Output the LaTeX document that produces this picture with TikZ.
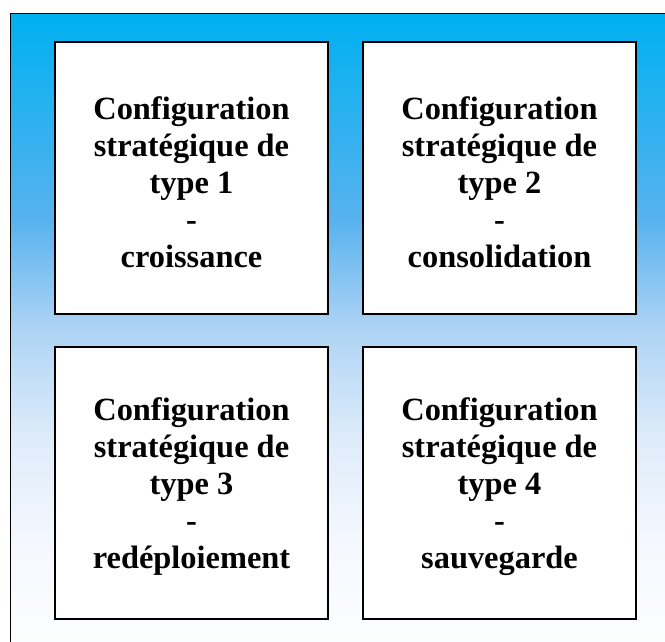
\documentclass[tikz,border=0pt]{standalone}
\usepackage{fontspec}
\setmainfont{Liberation Serif}
\definecolor{gA}{RGB}{252,253,255}
\definecolor{gB}{RGB}{244,248,254}
\definecolor{gC}{RGB}{222,236,250}
\definecolor{gD}{RGB}{175,212,245}
\definecolor{gE}{RGB}{88,178,238}
\definecolor{gF}{RGB}{0,176,240}
\pgfdeclareverticalshading{bgshade}{100bp}{color(0bp)=(gA); color(25bp)=(gA); color(33.1bp)=(gB); color(41.1bp)=(gC); color(49.8bp)=(gD); color(58.6bp)=(gE); color(75bp)=(gF); color(100bp)=(gF)}
\begin{document}
\begin{tikzpicture}[x=1pt,y=1pt,
  cfgbox/.style={draw=black, line width=2pt, fill=white, minimum width=273pt, minimum height=272pt,
    inner sep=0pt, align=center, font=\fontsize{32.4}{37}\selectfont\bfseries}]
\clip (0,0) rectangle (665,642);
\useasboundingbox (0,0) rectangle (665,642);
\shade[shading=bgshade] (10.5,0) rectangle (665,628.5);
\draw[black, line width=1.5pt] (10.5,-5) -- (10.5,628.5) -- (670,628.5);
\node[cfgbox] (b1) at (191.5,464) {};
\node[cfgbox] (b2) at (499.5,464) {};
\node[cfgbox] (b3) at (191.5,159) {};
\node[cfgbox] (b4) at (499.5,159) {};
\node[cfgbox, draw=none, fill=none] (t1) at ([yshift=-4pt]b1.center) {Configuration\\strat\'egique de\\type 1\\-\\croissance};
\node[cfgbox, draw=none, fill=none] (t2) at ([yshift=-4pt]b2.center) {Configuration\\strat\'egique de\\type 2\\-\\consolidation};
\node[cfgbox, draw=none, fill=none] (t3) at ([yshift=-4pt]b3.center) {Configuration\\strat\'egique de\\type 3\\-\\red\'eploiement};
\node[cfgbox, draw=none, fill=none] (t4) at ([yshift=-4pt]b4.center) {Configuration\\strat\'egique de\\type 4\\-\\sauvegarde};
\end{tikzpicture}
\end{document}
